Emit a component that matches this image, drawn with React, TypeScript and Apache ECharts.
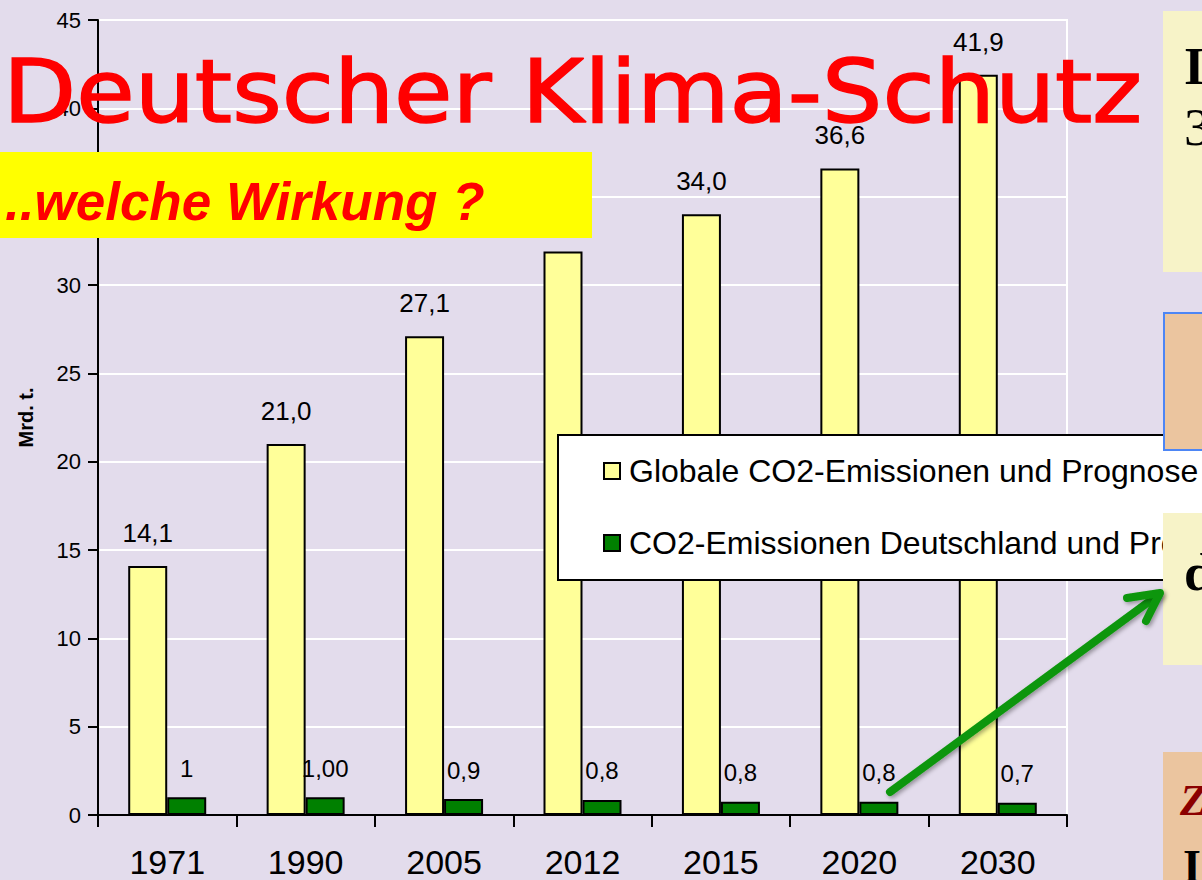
import React, { useEffect, useRef } from "react";
import * as echarts from "echarts";

const categories = ["1971", "1990", "2005", "2012", "2015", "2020", "2030"];
const globalValues = [14.1, 21.0, 27.1, 31.9, 34.0, 36.6, 41.9];
const globalLabels = ["14,1", "21,0", "27,1", "31,9", "34,0", "36,6", "41,9"];
const germanyValues = [1.0, 1.0, 0.9, 0.85, 0.75, 0.75, 0.7];
const germanyLabels = ["1", "1,00", "0,9", "0,8", "0,8", "0,8", "0,7"];
const seriesNames = [
  "Globale CO2-Emissionen und Prognose",
  "CO2-Emissionen Deutschland und Prognose",
];
const yMin = 0;
const yMax = 45;
const yStep = 5;
const yAxisName = "Mrd. t.";
const titleText = "Deutscher Klima-Schutz";
const subtitleText = "..welche Wirkung ?";

const BG = "#E3DCEC";
const SANS = '"Liberation Sans", Arial, sans-serif';
const SERIF = '"Liberation Serif", "Times New Roman", serif';

export default function App() {
  const ref = useRef<HTMLDivElement>(null);
  useEffect(() => {
    if (!ref.current) return;
    const chart = echarts.init(ref.current, undefined, { renderer: "svg" });
    const mid = { textAlign: "left", textVerticalAlign: "middle", verticalAlign: "middle" };
    const option: any = {
      animation: false,
      backgroundColor: BG,
      grid: {
        left: 98,
        right: 135,
        top: 20,
        bottom: 65,
        show: true,
        borderColor: "#ffffff",
        borderWidth: 2,
        backgroundColor: "transparent",
      },
      legend: {
        orient: "vertical",
        left: 558,
        top: 435,
        backgroundColor: "#ffffff",
        borderColor: "#000000",
        borderWidth: 2,
        borderRadius: 0,
        padding: [20, 45, 21, 45],
        itemGap: 40,
        itemWidth: 16,
        itemHeight: 16,
        icon: "rect",
        textStyle: {
          fontFamily: SANS,
          fontSize: 32,
          color: "#000",
          lineHeight: 32,
          padding: [0, 0, 0, 4],
        },
        data: seriesNames,
      },
      xAxis: {
        type: "category",
        data: categories,
        axisLine: { lineStyle: { color: "#000", width: 2 } },
        axisTick: { show: true, length: 12, lineStyle: { color: "#000", width: 2 } },
        axisLabel: { fontFamily: SANS, fontSize: 34, color: "#000", margin: 30 },
      },
      yAxis: {
        type: "value",
        min: yMin,
        max: yMax,
        interval: yStep,
        name: yAxisName,
        nameLocation: "middle",
        nameRotate: 90,
        nameGap: 62,
        nameTextStyle: { fontFamily: SANS, fontSize: 20, fontWeight: "bold", color: "#000" },
        axisLine: { show: true, lineStyle: { color: "#000", width: 2 } },
        axisTick: { show: true, length: 10, lineStyle: { color: "#000", width: 2 } },
        axisLabel: { fontFamily: SANS, fontSize: 22, color: "#000", margin: 17 },
        splitLine: { show: true, lineStyle: { color: "#ffffff", width: 2 } },
      },
      series: [
        {
          name: seriesNames[0],
          type: "bar",
          data: globalValues,
          barWidth: 39,
          barGap: "0%",
          itemStyle: { color: "#FFFF99", borderColor: "#000", borderWidth: 2 },
          label: {
            show: true,
            position: "top",
            distance: 20,
            fontFamily: SANS,
            fontSize: 26,
            color: "#000",
            formatter: (p: any) => globalLabels[p.dataIndex],
          },
        },
        {
          name: seriesNames[1],
          type: "bar",
          data: germanyValues,
          barWidth: 39,
          barGap: "0%",
          itemStyle: { color: "#008000", borderColor: "#000", borderWidth: 2 },
          label: {
            show: true,
            position: "top",
            distance: 17,
            fontFamily: SANS,
            fontSize: 24,
            color: "#000",
            formatter: (p: any) => germanyLabels[p.dataIndex],
          },
        },
      ],
      graphic: [
        {
          type: "text",
          x: 3,
          y: 92,
          scaleX: 1.08,
          z: 100,
          style: {
            text: titleText,
            fontFamily: '"DejaVu Sans", sans-serif',
            fontSize: 88,
            fill: "#FF0000",
            stroke: "#FF0000",
            lineWidth: 1.5,
            ...mid,
          },
        },
        {
          type: "rect",
          z: 90,
          shape: { x: 0, y: 152, width: 592, height: 86 },
          style: { fill: "#FFFF00" },
        },
        {
          type: "text",
          x: 5,
          y: 201,
          z: 91,
          style: {
            text: subtitleText,
            fontFamily: SANS,
            fontSize: 53,
            fontWeight: "bold",
            fontStyle: "italic",
            fill: "#FF0000",
            ...mid,
          },
        },
        {
          type: "rect",
          z: 90,
          shape: { x: 1163, y: 11, width: 60, height: 261 },
          style: { fill: "#F7F3C8" },
        },
        {
          type: "text",
          x: 1184,
          y: 66,
          z: 91,
          style: { text: "I", fontFamily: SERIF, fontSize: 53, fontWeight: "bold", fill: "#000", ...mid },
        },
        {
          type: "text",
          x: 1184,
          y: 127,
          z: 91,
          style: { text: "3", fontFamily: SERIF, fontSize: 53, fill: "#000", ...mid },
        },
        {
          type: "rect",
          z: 90,
          shape: { x: 1164, y: 313, width: 60, height: 137 },
          style: { fill: "#EBC59F", stroke: "#4D86F5", lineWidth: 2 },
        },
        {
          type: "rect",
          z: 90,
          shape: { x: 1163, y: 513, width: 60, height: 152 },
          style: { fill: "#F7F3C8" },
        },
        {
          type: "text",
          x: 1184,
          y: 572,
          z: 91,
          style: { text: "d", fontFamily: SERIF, fontSize: 53, fontWeight: "bold", fill: "#000", ...mid },
        },
        {
          type: "rect",
          z: 90,
          shape: { x: 1163, y: 752, width: 60, height: 140 },
          style: { fill: "#EBC59F" },
        },
        {
          type: "text",
          x: 1180,
          y: 800,
          z: 91,
          style: {
            text: "Z",
            fontFamily: SERIF,
            fontSize: 44,
            fontWeight: "bold",
            fontStyle: "italic",
            fill: "#8B0000",
            ...mid,
          },
        },
        {
          type: "text",
          x: 1183,
          y: 866,
          z: 91,
          style: { text: "I", fontFamily: SERIF, fontSize: 46, fontWeight: "bold", fill: "#000", ...mid },
        },
        {
          type: "line",
          z: 95,
          shape: { x1: 890, y1: 792, x2: 1158, y2: 595 },
          style: {
            stroke: "#0A960A",
            lineWidth: 8,
            lineCap: "round",
            shadowBlur: 4,
            shadowColor: "rgba(0,0,0,0.35)",
            shadowOffsetX: 2,
            shadowOffsetY: 2,
          },
        },
        {
          type: "polyline",
          z: 95,
          shape: { points: [[1127, 598], [1160, 593], [1146, 621]] },
          style: {
            stroke: "#0A960A",
            fill: "none",
            lineWidth: 8,
            lineCap: "round",
            lineJoin: "round",
            shadowBlur: 4,
            shadowColor: "rgba(0,0,0,0.35)",
            shadowOffsetX: 2,
            shadowOffsetY: 2,
          },
        },
      ],
    };
    chart.setOption(option);
    return () => chart.dispose();
  }, []);
  return (
    <div
      ref={ref}
      style={{ position: "absolute", left: 0, top: 0, width: 1202, height: 880 }}
    />
  );
}
